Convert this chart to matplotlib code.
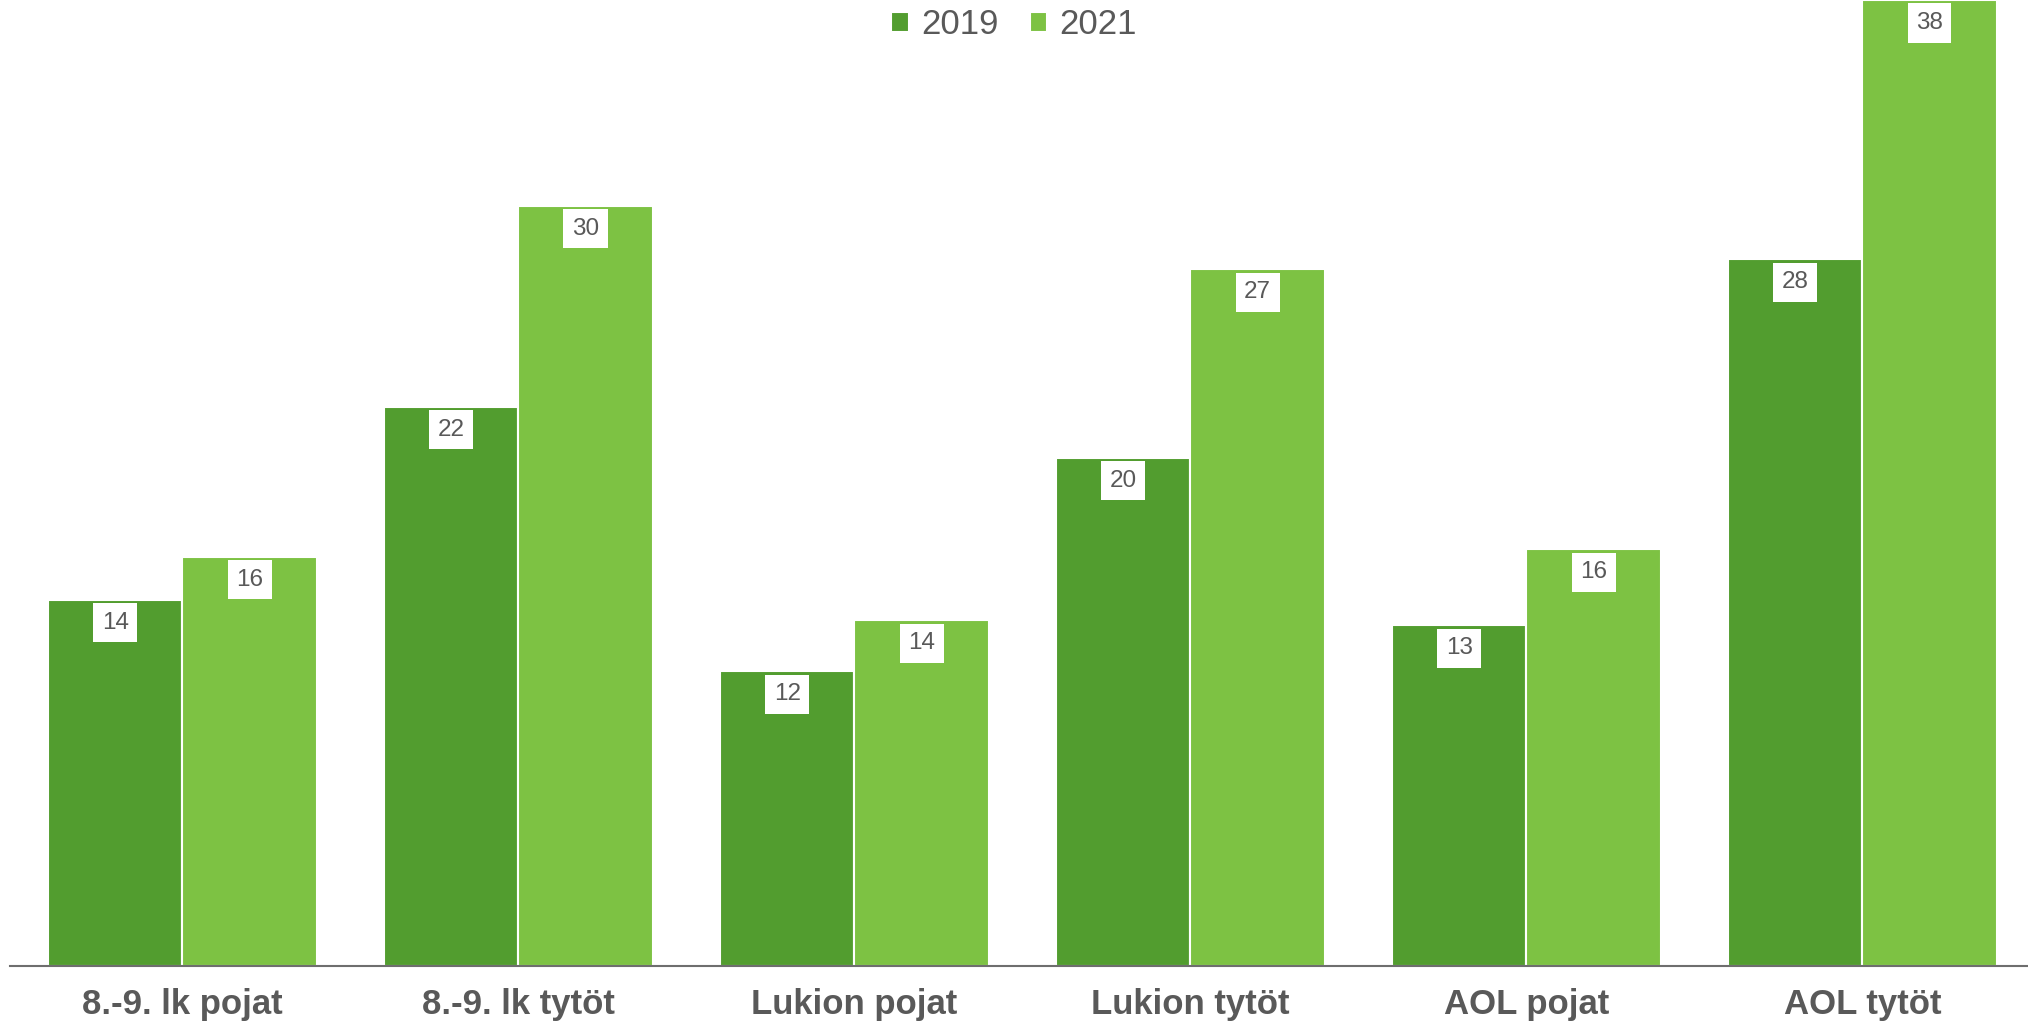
import numpy as np
import matplotlib.pyplot as plt

plt.rcParams['font.family'] = ['Liberation Sans', 'DejaVu Sans']

## Data
categories = ['8.-9. lk pojat', '8.-9. lk tytöt', 'Lukion pojat', 'Lukion tytöt', 'AOL pojat', 'AOL tytöt']
v2019 = [14.4, 22.0, 11.6, 20.0, 13.4, 27.8]
v2021 = [16.1, 29.9, 13.6, 27.4, 16.4, 38.0]
series = ['2019', '2021']

c2019 = '#529D2F'
c2021 = '#7DC243'
grey = '#595959'

fig = plt.figure(figsize=(20.28, 10.31), dpi=100)
W, H = 2028, 1031
ax = fig.add_axes([10 / W, (H - 966) / H, (W - 10) / W, 966 / H])

x = np.arange(len(categories))
w = 0.4
b1 = ax.bar(x - w / 2, v2019, w, color=c2019, edgecolor='white', linewidth=1.5, label=series[0])
b2 = ax.bar(x + w / 2, v2021, w, color=c2021, edgecolor='white', linewidth=1.5, label=series[1])

##Value labels
for bars, vals in ((b1, v2019), (b2, v2021)):
    for rect, v in zip(bars, vals):
        ax.annotate(f'{v:.0f}', (rect.get_x() + rect.get_width() / 2, v),
                    xytext=(0, -23), textcoords='offset pixels',
                    ha='center', va='center', fontsize=17.5, color=grey,
                    bbox=dict(boxstyle='square,pad=0.35', fc='white', ec='none'))

ax.set_xlim(-0.513, 5.493)
ax.set_ylim(0, 38.0)
ax.set_xticks(x)
ax.set_xticklabels(categories, fontsize=25, fontweight='bold', color=grey)
ax.tick_params(axis='x', length=0, pad=16)
ax.set_yticks([])
for s in ('top', 'right', 'left'):
    ax.spines[s].set_visible(False)
ax.spines['bottom'].set_color('#6e6e6e')
ax.spines['bottom'].set_linewidth(1.5)

fig.legend(loc='center', bbox_to_anchor=(0.5, 1 - 25 / H), ncol=2, frameon=False,
           fontsize=25, labelcolor=grey, handlelength=0.5, handleheight=0.5,
           handletextpad=0.35, columnspacing=0.9)

fig.savefig('out.png', dpi=100)
